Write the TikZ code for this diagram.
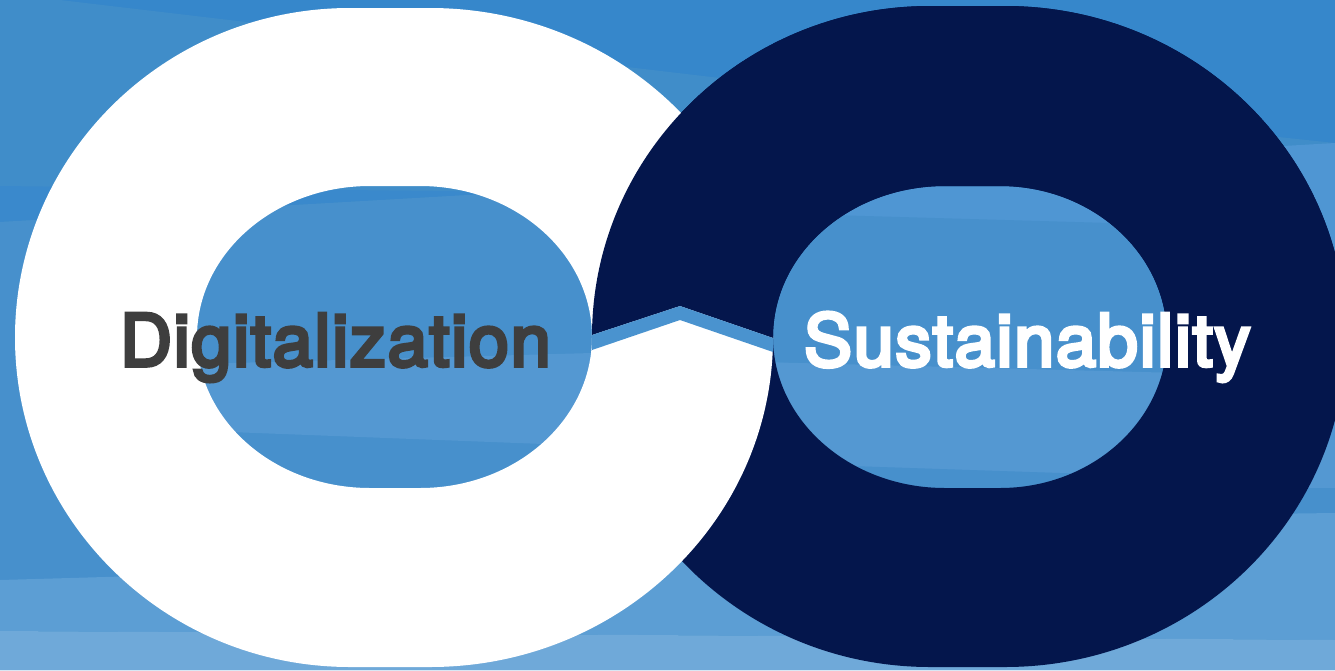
\documentclass[tikz,border=0pt]{standalone}
\usepackage{fontspec}
\newfontfamily\lblfont{TeX Gyre Heros}[FakeBold=5,LetterSpace=2.4]
\definecolor{navy}{HTML}{04164C}
\definecolor{textgrey}{HTML}{3E3E3E}
\definecolor{bgA}{HTML}{3687CB}
\definecolor{bgB}{HTML}{408DC9}
\definecolor{bgC}{HTML}{3A89CC}
\definecolor{bgD}{HTML}{4790CC}
\definecolor{bgE}{HTML}{5498D2}
\definecolor{bgF}{HTML}{5C9ED4}
\definecolor{bgG}{HTML}{6FA9D9}
\definecolor{bgH}{HTML}{4F96D3}
\definecolor{bandblue}{HTML}{4A93CF}
\tikzset{
  label text/.style={font=\lblfont\fontsize{41}{41}\selectfont, anchor=base west, inner sep=0pt, outer sep=0pt},
}
\newcommand{\whitering}{
  (15,-337.5) arc[start angle=180,end angle=90,x radius=335,y radius=329.5]
  -- (430,-8) arc[start angle=90,end angle=-90,x radius=343,y radius=329.5]
  -- (350,-667) arc[start angle=270,end angle=180,x radius=335,y radius=329.5] -- cycle
  (197,-337) arc[start angle=180,end angle=90,x radius=173,y radius=151]
  -- (420,-186) arc[start angle=90,end angle=-90,x radius=172,y radius=151]
  -- (370,-488) arc[start angle=270,end angle=180,x radius=173,y radius=151] -- cycle
}
\newcommand{\darkring}{
  (592,-336.5) arc[start angle=180,end angle=90,x radius=338,y radius=330.5]
  -- (1005,-6) arc[start angle=90,end angle=-90,x radius=341,y radius=330.5]
  -- (930,-667) arc[start angle=270,end angle=180,x radius=338,y radius=330.5] -- cycle
  (773,-337) arc[start angle=180,end angle=90,x radius=172,y radius=151]
  -- (1000,-186) arc[start angle=90,end angle=-90,x radius=167,y radius=151]
  -- (945,-488) arc[start angle=270,end angle=180,x radius=172,y radius=151] -- cycle
}
\begin{document}
\begin{tikzpicture}[x=0.02cm,y=0.02cm]
\useasboundingbox (0,0) rectangle (1335,-670);
\clip (0,0) rectangle (1335,-670);
% background bands
\fill[bgA] (0,0) rectangle (1335,-670);
\fill[bgB] (60,0) -- (720,-78) -- (1335,-143) -- (1335,-670) -- (0,-670) -- (0,0) -- cycle;
\fill[bgC] (0,-186) -- (520,-192) -- (0,-222) -- cycle;
% left half
\fill[bgD] (0,-222) -- (520,-192) -- (700,-190) -- (700,-580) -- (0,-580) -- cycle;
\fill[bgE] (160,-365) -- (700,-350) -- (700,-450) -- (230,-432) -- cycle;
\fill[bgF] (0,-580) -- (700,-560) -- (800,-560) -- (800,-636) -- (0,-631) -- cycle;
\fill[bgG] (0,-631) -- (800,-636) -- (800,-670) -- (0,-670) -- cycle;
% right half
\fill[bgH] (700,-180) -- (1335,-143) -- (1335,-488) -- (700,-488) -- cycle;
\fill[bgD] (760,-213) -- (1180,-225) -- (1180,-375) -- (760,-362) -- cycle;
\fill[bgE] (760,-362) -- (1180,-373) -- (1180,-477) -- (760,-463) -- cycle;
\fill[bgD] (760,-463) -- (1180,-477) -- (1335,-488) -- (1335,-513) -- (1180,-520) -- (760,-520) -- cycle;
\fill[bgE] (1280,-440) rectangle (1335,-488);
\fill[bgF] (800,-520) -- (1335,-513) -- (1335,-640) -- (800,-636) -- cycle;
\fill[bgG] (800,-636) -- (1335,-640) -- (1335,-670) -- (800,-670) -- cycle;
% the two rings: navy behind, white over it, navy's upper part on top
\fill[navy,even odd rule] \darkring;
\fill[white,even odd rule] \whitering;
\begin{scope}
  \clip (592,-335) -- (680,-306) -- (773,-338) -- (1400,-338) -- (1400,10) -- (592,10) -- cycle;
  \fill[navy,even odd rule] \darkring;
\end{scope}
% band between the rings
\fill[bandblue] (592,-335) -- (680,-306) -- (773,-338) -- (773,-352) -- (680,-320) -- (592,-350) -- cycle;
% labels
\node[label text,text=textgrey] (dig) at (120,-366) {Digitalization};
\node[label text,text=white] (sus) at (804,-366) {Sustainability};
\end{tikzpicture}
\end{document}
